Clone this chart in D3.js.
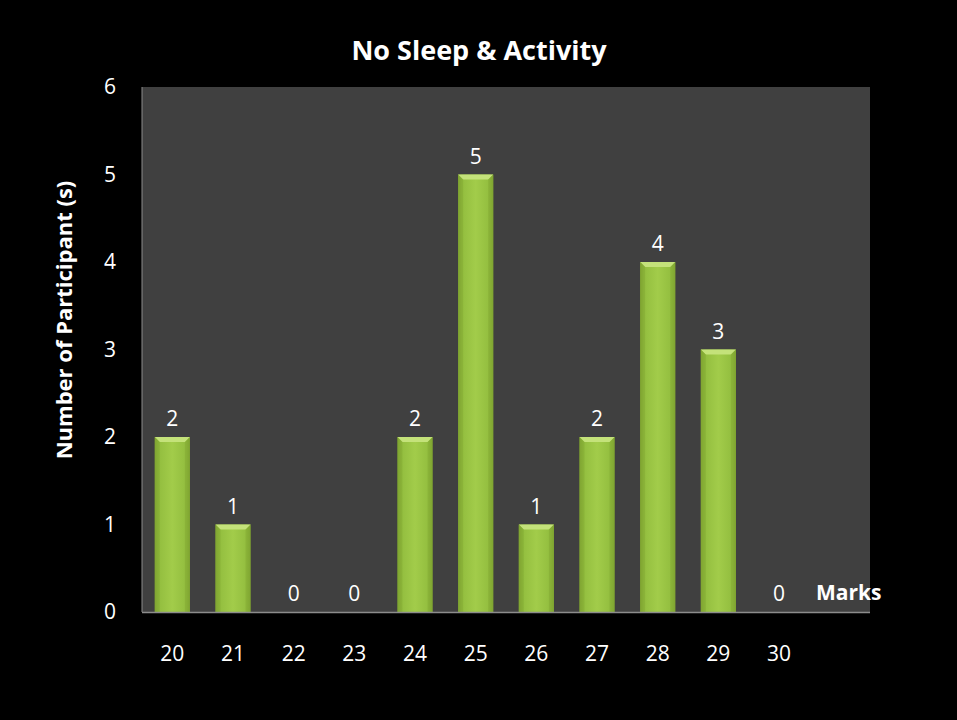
<!DOCTYPE html>
<html>
<head>
<meta charset="utf-8">
<script src="https://cdn.jsdelivr.net/npm/d3@7/dist/d3.min.js"></script>
<style>
  html, body { margin: 0; padding: 0; background: #000; }
  svg { display: block; }
  text { font-family: "Open Sans", "Noto Sans", sans-serif; fill: #fff; }
</style>
</head>
<body>
<svg id="chart" width="957" height="720"></svg>
<script>
// Marks obtained and how many participants got each mark
const marks = ["20", "21", "22", "23", "24", "25", "26", "27", "28", "29", "30"];
const participants = [2, 1, 0, 0, 2, 5, 1, 2, 4, 3, 0];
const yTicks = [0, 1, 2, 3, 4, 5, 6];

const title = "No Sleep & Activity";
const yTitle = "Number of Participant (s)";
const xTitle = "Marks";

const svg = d3.select("#chart");
const W = 957, H = 720;
const FONT = '"Open Sans", "Noto Sans", sans-serif';
svg.append("rect").attr("width", W).attr("height", H).attr("fill", "#000");

const plot = { left: 142, top: 87, right: 870, bottom: 612 };
const step = 60.67;

const x = d3.scaleBand()
  .domain(marks)
  .range([plot.left, plot.left + step * marks.length])
  .paddingInner(0.42)
  .paddingOuter(0.21);

const y = d3.scaleLinear().domain([0, 6]).range([plot.bottom, plot.top]);

// Plot area
svg.append("rect")
  .attr("x", plot.left).attr("y", plot.top)
  .attr("width", plot.right - plot.left).attr("height", plot.bottom - plot.top)
  .attr("fill", "#404040");

// Gradient for the bevelled bars
const defs = svg.append("defs");
const body = defs.append("linearGradient").attr("id", "barBody")
  .attr("x1", "0").attr("x2", "1").attr("y1", "0").attr("y2", "0");
body.append("stop").attr("offset", "0").attr("stop-color", "#7a9e2e");
body.append("stop").attr("offset", "0.12").attr("stop-color", "#93be3f");
body.append("stop").attr("offset", "0.5").attr("stop-color", "#a2cc4a");
body.append("stop").attr("offset", "0.88").attr("stop-color", "#93be3f");
body.append("stop").attr("offset", "1").attr("stop-color", "#7a9e2e");

const bars = svg.append("g");
const bevel = 5;
const pts = arr => arr.map(p => p.join(",")).join(" ");
participants.forEach((v, i) => {
  if (v <= 0) return;
  const bx = x(marks[i]), bw = x.bandwidth(), by = y(v), bh = y(0) - y(v);
  bars.append("rect")
    .attr("x", bx).attr("y", by).attr("width", bw).attr("height", bh)
    .attr("fill", "url(#barBody)");
  // top bevel
  bars.append("polygon")
    .attr("points", pts([[bx, by], [bx + bw, by], [bx + bw - bevel, by + bevel], [bx + bevel, by + bevel]]))
    .attr("fill", "#c4e27a");
  // side bevels
  bars.append("polygon")
    .attr("points", pts([[bx, by], [bx + bevel, by + bevel], [bx + bevel, by + bh], [bx, by + bh]]))
    .attr("fill", "#84aa34").attr("opacity", 0.6);
  bars.append("polygon")
    .attr("points", pts([[bx + bw, by], [bx + bw - bevel, by + bevel], [bx + bw - bevel, by + bh], [bx + bw, by + bh]]))
    .attr("fill", "#84aa34").attr("opacity", 0.6);
});

// Axis lines
svg.append("line")
  .attr("x1", plot.left).attr("x2", plot.left)
  .attr("y1", plot.top).attr("y2", plot.bottom)
  .attr("stroke", "#8c8c8c").attr("stroke-width", 1);
svg.append("line")
  .attr("x1", plot.left).attr("x2", plot.right)
  .attr("y1", plot.bottom + 0.5).attr("y2", plot.bottom + 0.5)
  .attr("stroke", "#8c8c8c").attr("stroke-width", 1.5);

// Y axis tick labels
const yAxis = d3.axisLeft(y).tickValues(yTicks).tickFormat(d3.format("d")).tickSize(0).tickPadding(0);
const gy = svg.append("g").attr("transform", `translate(${plot.left - 26},0)`).call(yAxis);
gy.select(".domain").remove();
gy.selectAll("text").attr("font-size", 21).attr("fill", "#fff").attr("font-family", FONT);

// X axis tick labels
const xAxis = d3.axisBottom(x).tickSize(0).tickPadding(0);
const gx = svg.append("g").attr("transform", `translate(0,${plot.bottom + 34})`).call(xAxis);
gx.select(".domain").remove();
gx.selectAll("text").attr("font-size", 21).attr("fill", "#fff").attr("font-family", FONT);

// Value labels
svg.append("g").selectAll("text").data(participants).join("text")
  .attr("x", (d, i) => x(marks[i]) + x.bandwidth() / 2)
  .attr("y", d => y(d) - 11)
  .attr("text-anchor", "middle")
  .attr("font-size", 21)
  .text(d => d);

// Titles
svg.append("text")
  .attr("x", 479).attr("y", 60)
  .attr("text-anchor", "middle")
  .attr("font-size", 27).attr("font-weight", "bold")
  .text(title);

svg.append("text")
  .attr("transform", "translate(72,320) rotate(-90)")
  .attr("text-anchor", "middle")
  .attr("font-size", 22).attr("font-weight", "bold")
  .text(yTitle);

svg.append("text")
  .attr("x", 816).attr("y", 600)
  .attr("font-size", 21).attr("font-weight", "bold")
  .text(xTitle);
</script>
</body>
</html>
